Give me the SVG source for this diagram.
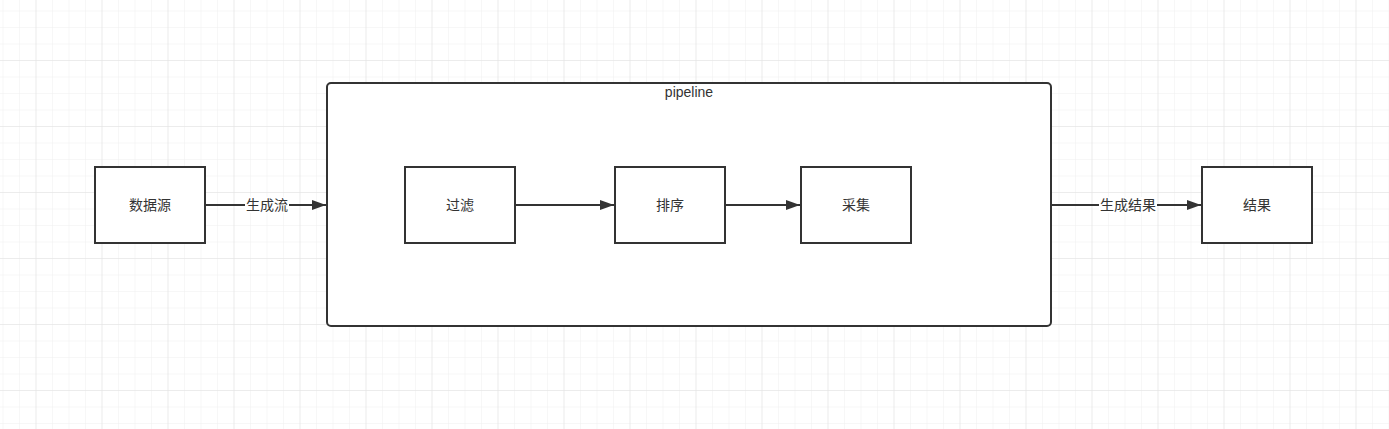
<svg xmlns="http://www.w3.org/2000/svg" width="1389" height="429" viewBox="0 0 1389 429">
<defs>
<pattern id="minor" x="2.5" y="10.5" width="16.5" height="16.5" patternUnits="userSpaceOnUse">
<path d="M0 0V16.5M0 0H16.5" fill="none" stroke="#f0f0f0" stroke-width="1"/>
</pattern>
<pattern id="major" x="35.5" y="60" width="66" height="66" patternUnits="userSpaceOnUse">
<path d="M0 0V66M0 0H66" fill="none" stroke="#e2e2e2" stroke-width="1"/>
</pattern>
<marker id="arr" viewBox="0 0 14 10" refX="14" refY="5" markerWidth="14" markerHeight="10" markerUnits="userSpaceOnUse" orient="auto">
<path d="M0 0L14 5L0 10Z" fill="#333"/>
</marker>
<style>
.box{fill:#fff;stroke:#333;stroke-width:2}
.t{font-family:"Liberation Sans","Noto Sans CJK SC",sans-serif;font-size:14px;fill:#333;text-anchor:middle;dominant-baseline:central}
.e{fill:none;stroke:#333;stroke-width:2}
.lbl{fill:#fff}
</style>
</defs>
<rect width="1389" height="429" fill="#fff"/>
<rect width="1389" height="429" fill="url(#minor)"/>
<rect width="1389" height="429" fill="url(#major)"/>
<g id="pipeline">
<rect class="box" x="327" y="83" width="724" height="243" rx="4"/>
<text class="t" x="689" y="92">pipeline</text>
</g>
<g id="source"><rect class="box" x="95" y="167" width="110" height="76"/><text class="t" x="150" y="205">数据源</text></g>
<g id="filter"><rect class="box" x="405" y="167" width="110" height="76"/><text class="t" x="460" y="205">过滤</text></g>
<g id="sort"><rect class="box" x="615" y="167" width="110" height="76"/><text class="t" x="670" y="205">排序</text></g>
<g id="collect"><rect class="box" x="801" y="167" width="110" height="76"/><text class="t" x="856" y="205">采集</text></g>
<g id="result"><rect class="box" x="1202" y="167" width="110" height="76"/><text class="t" x="1257" y="205">结果</text></g>
<g id="connectors">
<path class="e" d="M205 205H326" marker-end="url(#arr)"/>
<rect class="lbl" x="245" y="197" width="44" height="16"/>
<text class="t" x="267" y="205">生成流</text>
<path class="e" d="M515 205H614" marker-end="url(#arr)"/>
<path class="e" d="M725 205H800" marker-end="url(#arr)"/>
<path class="e" d="M1051 205H1201" marker-end="url(#arr)"/>
<rect class="lbl" x="1099" y="197" width="58" height="16"/>
<text class="t" x="1128" y="205">生成结果</text>
</g>
</svg>
